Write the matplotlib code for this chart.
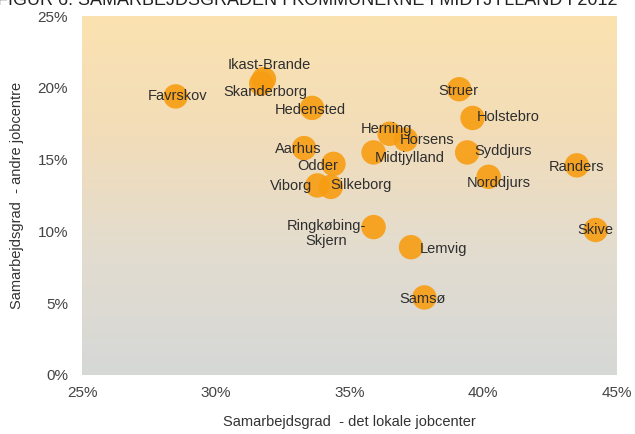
import numpy as np
import matplotlib
matplotlib.use('Agg')
import matplotlib.pyplot as plt
from matplotlib.colors import LinearSegmentedColormap

plt.rcParams['font.family'] = ['Liberation Sans', 'DejaVu Sans']

# Samarbejdsgrad per kommune (lokalt jobcenter, andre jobcentre), in %
kommuner = ["Favrskov", "Ikast-Brande", "Skanderborg", "Hedensted", "Aarhus",
            "Odder", "Viborg", "Silkeborg", "Midtjylland", "Herning", "Horsens",
            "Holstebro", "Syddjurs", "Norddjurs", "Struer", "Randers", "Skive",
            "Ringkøbing-\nSkjern", "Lemvig", "Samsø"]
lokal = [28.5, 31.8, 31.7, 33.6, 33.3, 34.4, 33.8, 34.3, 35.9, 36.5, 37.1,
         39.6, 39.4, 40.2, 39.1, 43.5, 44.2, 35.9, 37.3, 37.8]
andre = [19.4, 20.6, 20.3, 18.6, 15.8, 14.7, 13.2, 13.1, 15.5, 16.8, 16.4,
         17.9, 15.5, 13.8, 19.9, 14.6, 10.1, 10.3, 8.9, 5.4]

# label offsets in pixels from the marker centre
offsets = [(2, 0), (5, 14), (4, -9), (-2, -2), (-6, -1),
           (-16, -2), (-26, -1), (30, 2), (36, -6), (-3, 5), (21, -1),
           (36, 1), (36, 1), (10, -6), (-1, -2), (0, -2), (0, 0),
           (-47, -6), (32, -2), (-2, -2)]

xticks = [25, 30, 35, 40, 45]
yticks = [0, 5, 10, 15, 20, 25]

fig = plt.figure(figsize=(6.35, 4.34), dpi=100)
ax = fig.add_axes([82 / 635, 59 / 434, 535 / 635, 359 / 434])

# orange-to-grey background gradient
cmap = LinearSegmentedColormap.from_list(
    "bg", ["#d6d8d7", "#e2dcd0", "#f2ddb9", "#fbe2b0"])
grad = np.linspace(0, 1, 256).reshape(-1, 1)
ax.imshow(grad, cmap=cmap, aspect='auto', origin='lower',
          extent=[25, 45, 0, 25], zorder=0)

ax.scatter(lokal, andre, s=310, color="#f89d12", alpha=0.9,
           edgecolors='none', zorder=2)

for name, x, y, (dx, dy) in zip(kommuner, lokal, andre, offsets):
    ax.annotate(name, (x, y), xytext=(dx, dy), textcoords='offset pixels',
                ha='center', va='center', fontsize=10.5, color="#2e2e2e",
                linespacing=1.1, zorder=3)

ax.set_xlim(25, 45)
ax.set_ylim(0, 25)
ax.set_xticks(xticks)
ax.set_yticks(yticks)
ax.set_xticklabels([f"{t}%" for t in xticks])
ax.set_yticklabels([f"{t}%" for t in yticks])
ax.tick_params(length=0, labelsize=11, labelcolor="#444444")
ax.tick_params(axis='x', pad=8)
ax.tick_params(axis='y', pad=10)
for s in ax.spines.values():
    s.set_visible(False)

ax.set_xlabel("Samarbejdsgrad  - det lokale jobcenter", fontsize=10.5,
              color="#333333", labelpad=11)
ax.set_ylabel("Samarbejdsgrad  - andre jobcentre", fontsize=10.5,
              color="#333333", labelpad=10)

# title line, cut off at the top edge of the image as in the source
fig.text(-0.005, 1 - 5 / 434, "FIGUR 6: SAMARBEJDSGRADEN I KOMMUNERNE I MIDTJYLLAND I 2012",
         fontsize=13, color="#222222", va='baseline', ha='left')

fig.savefig("out.png", dpi=100)
